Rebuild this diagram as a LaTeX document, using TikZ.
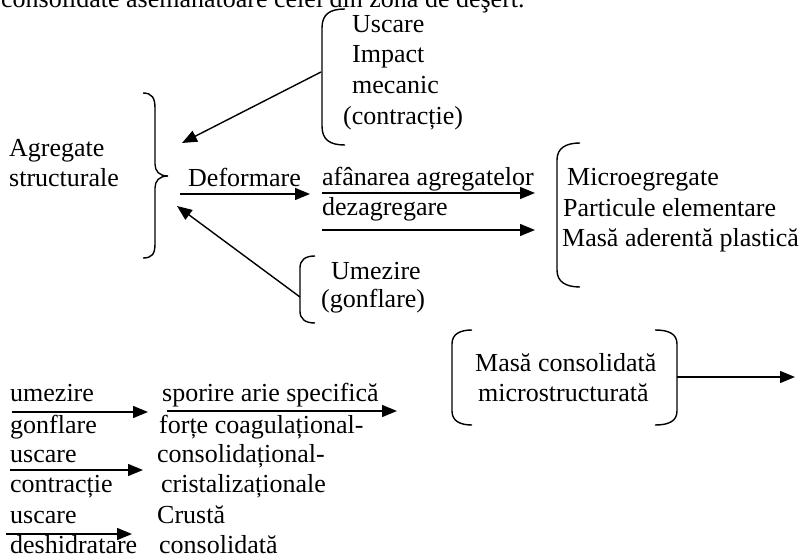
\documentclass[tikz,border=0pt]{standalone}
\usepackage{fontspec}
\setmainfont{Liberation Serif}
\usetikzlibrary{
  arrows.meta,
  positioning
}
\tikzset{
  >={Triangle[length=15pt,width=12pt]},
  txt/.style={anchor=base west, inner sep=0pt, font=\fontsize{26}{30}\selectfont},
  brk/.style={line width=1.4pt},
  arw/.style={->, line width=1.4pt}
}

\begin{document}
\begin{tikzpicture}[x=1pt,y=-1pt]
    \clip (0,0) rectangle (807,556);
    \node[txt] (head) at (1,8) {consolidate asemănătoare celei din zona de deşert.};
    % agregate si acolada
    \node[txt] (aggr1) at (9,157) {Agregate};
    \node[txt] (aggr2) at (9,187) {structurale};
    \draw[brk] (143,93) .. controls (152,93) and (155,98) .. (155,108) -- (155,164)
      .. controls (155,171) and (159,176) .. (168,176)
      .. controls (159,176) and (155,181) .. (155,188) -- (155,244)
      .. controls (155,254) and (152,258) .. (143,258);
    \coordinate (inup) at (182,143);
    \coordinate (inlow) at (177,206);
    % uscare / impact
    \node[txt] (usc) at (352,33) {Uscare};
    \node[txt] (imp) at (352,63) {Impact};
    \node[txt] (mec) at (352,94) {mecanic};
    \node[txt] (contr) at (343,125) {(contracție)};
    \draw[brk] (345,9) .. controls (330,9) and (322,14) .. (322,28) -- (322,126)
      .. controls (322,140) and (330,145) .. (345,145);
    \coordinate (outup) at (321,72);
    \draw[arw] (outup) -- (inup);
    % umezire
    \node[txt] (umez) at (331,280) {Umezire};
    \node[txt] (gonf) at (321,308) {(gonflare)};
    \draw[brk] (315,256) .. controls (305,256) and (300,260) .. (300,268) -- (300,311)
      .. controls (300,319) and (305,323) .. (315,323);
    \coordinate (outlow) at (300,297);
    \draw[arw] (outlow) -- (inlow);
    % deformare
    \node[txt] (def) at (188,187) {Deformare};
    \coordinate (defs) at (180,194);
    \coordinate (defe) at (310,194);
    \draw[arw] (defs) -- (defe);
    \node[txt] (afan) at (322,186) {afânarea agregatelor};
    \node[txt] (dezag) at (322,216) {dezagregare};
    \coordinate (afs) at (322,193);
    \coordinate (afe) at (535,193);
    \coordinate (dzs) at (322,230);
    \coordinate (dze) at (535,230);
    \draw[arw] (afs) -- (afe);
    \draw[arw] (dzs) -- (dze);
    % rezultat
    \node[txt] (micro) at (567,186) {Microegregate};
    \node[txt] (partic) at (563,217) {Particule elementare};
    \node[txt] (masa) at (562,247) {Masă aderentă plastică};
    \draw[brk] (580,143) .. controls (566,143) and (557,148) .. (557,160) -- (557,270)
      .. controls (557,282) and (566,287) .. (580,287);
    % masa consolidata
    \node[txt] (mcons1) at (475,372) {Masă consolidată};
    \node[txt] (mcons2) at (478,402) {microstructurată};
    \draw[brk] (472,330) .. controls (460,330) and (452,334) .. (452,344) -- (452,411)
      .. controls (452,421) and (460,425) .. (472,425);
    \draw[brk] (655,330) .. controls (669,330) and (677,334) .. (677,344) -- (677,411)
      .. controls (677,421) and (669,425) .. (655,425);
    \coordinate (mcs) at (677,377);
    \coordinate (mce) at (795,377);
    \draw[arw] (mcs) -- (mce);
    % procese jos
    \node[txt] (l1) at (10,402) {umezire};
    \node[txt] (l2) at (10,433) {gonflare};
    \node[txt] (l3) at (10,463) {uscare};
    \node[txt] (l4) at (10,493) {contracție};
    \node[txt] (l5) at (10,523) {uscare};
    \node[txt] (l6) at (10,553) {deshidratare};
    \node[txt] (r1) at (162,402) {sporire arie specifică};
    \node[txt] (r2) at (159,433) {forțe coagulațional-};
    \node[txt] (r3) at (157,463) {consolidațional-};
    \node[txt] (r4) at (161,493) {cristalizaționale};
    \node[txt] (r5) at (157,523) {Crustă};
    \node[txt] (r6) at (159,553) {consolidată};
    \coordinate (a1s) at (12,412);
    \coordinate (a1e) at (148,412);
    \coordinate (a2s) at (10,470);
    \coordinate (a2e) at (143,470);
    \coordinate (a3s) at (6,534);
    \coordinate (a3e) at (132,534);
    \coordinate (a4s) at (167,411);
    \coordinate (a4e) at (397,411);
    \draw[arw] (a1s) -- (a1e);
    \draw[arw] (a2s) -- (a2e);
    \draw[arw] (a3s) -- (a3e);
    \draw[arw] (a4s) -- (a4e);
  \end{tikzpicture}
\end{document}
